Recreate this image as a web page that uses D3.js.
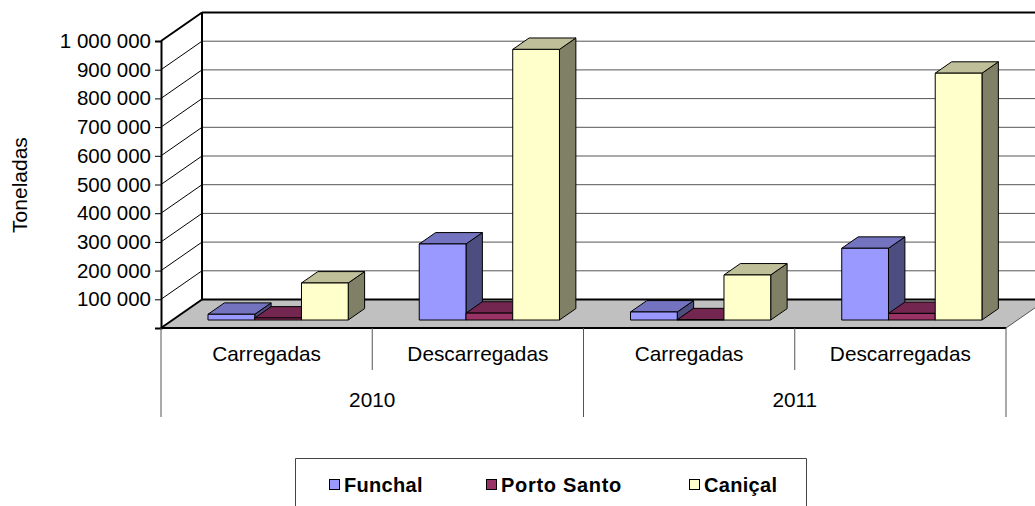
<!DOCTYPE html>
<html>
<head>
<meta charset="utf-8">
<script src="https://d3js.org/d3.v7.min.js"></script>
<style>
  html, body { margin: 0; padding: 0; background: #fff; overflow: hidden; }
  text { font-family: "Liberation Sans", Arial, sans-serif; fill: #000; }
</style>
</head>
<body>
<svg id="chart" width="1035" height="506"></svg>
<script>
// Chart data
const years = ["2010", "2011"];
const types = ["Carregadas", "Descarregadas"];
const seriesNames = ["Funchal", "Porto Santo", "Caniçal"];
const funchal = [20000, 265000, 28000, 250000];
const portoSanto = [7000, 24000, 1000, 23000];
const canical = [129000, 943000, 157000, 860000];
const tickValues = [0, 100000, 200000, 300000, 400000, 500000, 600000, 700000, 800000, 900000, 1000000];

const seriesValues = [funchal, portoSanto, canical];
const frontColors = ["#9999FF", "#993366", "#FFFFCC"];
const topColors = ["#7373BF", "#732650", "#BFBF99"];
const sideColors = ["#4D4D80", "#4D1A33", "#808066"];

const svg = d3.select("#chart");

// plot box, front plane
const x0 = 161, x1 = 1006, yBottom = 328, yTop = 41;
// depth of the 3d box
const depthX = 41, depthY = 28.5;
// bars start 0.28 into the floor and take 0.4 of the depth
const barOffset = 0.28, barDepth = 0.4;

const categories = [];
years.forEach(y => types.forEach(t => categories.push(y + "-" + t)));

const xCat = d3.scaleBand().domain(categories).range([x0, x1]);
const xSeries = d3.scaleBand().domain(seriesNames).range([0, xCat.bandwidth()]).paddingOuter(0.76);
const yScale = d3.scaleLinear().domain([0, 1000000]).range([yBottom, yTop]);

const poly = pts => pts.map(p => p.join(",")).join(" ");

// floor
svg.append("polygon")
  .attr("points", poly([[x0, yBottom], [x1, yBottom], [x1 + depthX, yBottom - depthY], [x0 + depthX, yBottom - depthY]]))
  .attr("fill", "#C0C0C0");

// gridlines on back wall and left wall
tickValues.slice(1).forEach(v => {
  const y = yScale(v);
  const top = v === 1000000;
  svg.append("line")
    .attr("x1", x0 + depthX).attr("x2", x1 + depthX)
    .attr("y1", y - depthY).attr("y2", y - depthY)
    .attr("stroke", top ? "#000" : "#555")
    .attr("stroke-width", top ? 2 : 1);
  svg.append("line")
    .attr("x1", x0).attr("x2", x0 + depthX)
    .attr("y1", y).attr("y2", y - depthY)
    .attr("stroke", "#000")
    .attr("stroke-width", top ? 2 : 1);
});

// back edge of floor, wall edges
svg.append("line").attr("x1", x0 + depthX).attr("x2", x1 + depthX)
  .attr("y1", yBottom - depthY).attr("y2", yBottom - depthY)
  .attr("stroke", "#000").attr("stroke-width", 2);
svg.append("line").attr("x1", x0 + depthX).attr("x2", x0 + depthX)
  .attr("y1", yTop - depthY).attr("y2", yBottom - depthY)
  .attr("stroke", "#000").attr("stroke-width", 2);
svg.append("line").attr("x1", x0).attr("x2", x0 + depthX)
  .attr("y1", yBottom).attr("y2", yBottom - depthY)
  .attr("stroke", "#000").attr("stroke-width", 2);
svg.append("line").attr("x1", x0).attr("x2", x1)
  .attr("y1", yBottom).attr("y2", yBottom)
  .attr("stroke", "#000").attr("stroke-width", 2);
svg.append("line").attr("x1", x1).attr("x2", x1 + depthX)
  .attr("y1", yBottom).attr("y2", yBottom - depthY)
  .attr("stroke", "#555");

// y axis
const fmt = d3.formatLocale({ decimal: ",", thousands: " ", grouping: [3], currency: ["", ""] }).format(",d");
const yAxis = d3.axisLeft(yScale)
  .tickValues(tickValues)
  .tickSize(6)
  .tickPadding(4)
  .tickFormat(d => d === 0 ? "" : fmt(d));
const axisG = svg.append("g").attr("transform", `translate(${x0},0)`).call(yAxis);
axisG.selectAll("text").style("font-size", "20.5px").style("font-family", '"Liberation Sans", Arial, sans-serif');
axisG.select(".domain").attr("stroke-width", 2);

svg.append("text")
  .attr("transform", "translate(27,185) rotate(-90)")
  .attr("text-anchor", "middle")
  .style("font-size", "21px")
  .text("Toneladas");

// bars, left to right so the nearer ones paint over
categories.forEach((cat, ci) => {
  seriesNames.forEach((name, si) => {
    const value = seriesValues[si][ci];
    const bx0 = xCat(cat) + xSeries(name) + depthX * barOffset;
    const bx1 = bx0 + xSeries.bandwidth();
    const by0 = yBottom - depthY * barOffset;
    const by1 = yScale(value) - depthY * barOffset;
    const dx = depthX * barDepth, dy = depthY * barDepth;
    const g = svg.append("g").attr("stroke", "#000").attr("stroke-width", 1).attr("stroke-linejoin", "round");
    g.append("polygon").attr("points", poly([[bx1, by0], [bx1 + dx, by0 - dy], [bx1 + dx, by1 - dy], [bx1, by1]])).attr("fill", sideColors[si]);
    g.append("polygon").attr("points", poly([[bx0, by1], [bx1, by1], [bx1 + dx, by1 - dy], [bx0 + dx, by1 - dy]])).attr("fill", topColors[si]);
    g.append("rect").attr("x", bx0).attr("y", by1).attr("width", bx1 - bx0).attr("height", by0 - by1).attr("fill", frontColors[si]);
  });
});

// multi level category axis
const sepColor = "#555";
categories.forEach((cat, ci) => {
  const left = xCat(cat);
  const isYearEdge = ci % types.length === 0;
  svg.append("line").attr("x1", left).attr("x2", left)
    .attr("y1", yBottom).attr("y2", isYearEdge ? 417 : 370)
    .attr("stroke", sepColor);
  svg.append("text")
    .attr("x", left + xCat.bandwidth() / 2).attr("y", 361)
    .attr("text-anchor", "middle")
    .style("font-size", "20.8px")
    .text(cat.split("-")[1]);
});
svg.append("line").attr("x1", x1).attr("x2", x1).attr("y1", yBottom).attr("y2", 417).attr("stroke", sepColor);
years.forEach((year, yi) => {
  const left = xCat(categories[yi * types.length]);
  svg.append("text")
    .attr("x", left + xCat.bandwidth()).attr("y", 406.5)
    .attr("text-anchor", "middle")
    .style("font-size", "20.8px")
    .text(year);
});

// legend, its bottom edge falls outside the picture
svg.append("path").attr("d", "M295.5,506V458.5H806.5V506").attr("fill", "none").attr("stroke", "#444");
const legendMarks = [329, 486, 689];
seriesNames.forEach((name, si) => {
  svg.append("rect").attr("x", legendMarks[si] + 0.5).attr("y", 479.5).attr("width", 10).attr("height", 10)
    .attr("fill", frontColors[si]).attr("stroke", "#000");
  svg.append("text")
    .attr("x", legendMarks[si] + 15).attr("y", 491.5)
    .style("font-size", "20px").style("font-weight", "bold")
    .style("letter-spacing", si === 1 ? "0.7px" : "0.3px")
    .text(name);
});
</script>
</body>
</html>
